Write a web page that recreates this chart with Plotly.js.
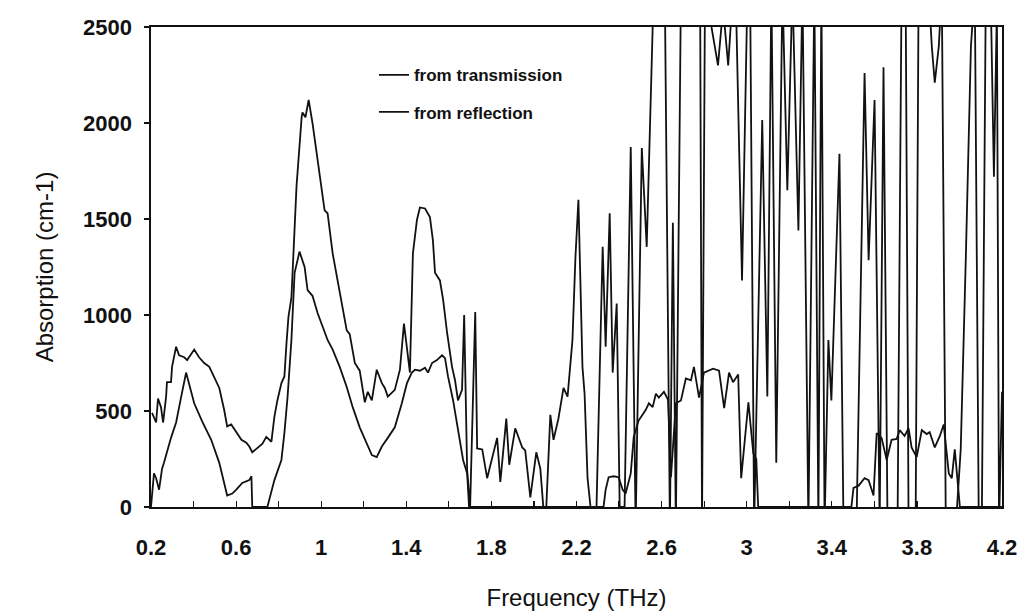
<!DOCTYPE html>
<html>
<head>
<meta charset="utf-8">
<script src="https://cdn.plot.ly/plotly-3.0.1.min.js"></script>
<style>html,body{margin:0;padding:0;background:#fff;}#chart{width:1033px;height:616px;}</style>
</head>
<body>
<div id="chart"></div>
<script>
// Frequency (THz) and absorption (cm-1)
const freqTransmission = [0.205,0.224,0.233,0.247,0.257,0.271,0.275,0.294,0.299,0.318,0.332,0.356,0.370,0.389,0.403,0.426,0.450,0.474,0.497,0.521,0.544,0.558,0.577,0.601,0.625,0.648,0.662,0.676,0.700,0.724,0.742,0.766,0.780,0.794,0.813,0.827,0.837,0.846,0.860,0.884,0.908,0.912,0.926,0.941,0.959,0.992,1.016,1.030,1.054,1.077,1.101,1.120,1.134,1.158,1.181,1.205,1.219,1.238,1.261,1.285,1.299,1.313,1.346,1.370,1.389,1.403,1.417,1.431,1.450,1.464,1.488,1.511,1.525,1.535,1.558,1.573,1.592,1.615,1.629,1.643,1.662,1.672,1.686,1.700,1.724,1.733,1.757,1.780,1.827,1.842,1.870,1.884,1.912,1.945,1.959,1.983,2.011,2.030,2.044,2.058,2.077,2.092,2.115,2.139,2.158,2.181,2.195,2.209,2.219,2.228,2.238,2.252,2.266,2.294,2.323,2.337,2.356,2.370,2.389,2.403,2.426,2.455,2.478,2.507,2.530,2.563,2.615,2.639,2.653,2.667,2.691,2.781,2.790,2.804,2.865,2.889,2.913,2.936,2.950,2.978,3.002,3.016,3.035,3.073,3.097,3.116,3.139,3.168,3.191,3.215,3.243,3.262,3.290,3.318,3.337,3.351,3.366,3.384,3.398,3.436,3.455,3.516,3.554,3.573,3.601,3.625,3.643,3.662,3.709,3.728,3.747,3.761,3.794,3.808,3.855,3.870,3.884,3.903,3.917,3.936,3.983,4.006,4.030,4.054,4.072,4.091,4.105,4.124,4.148,4.162,4.176,4.186,4.200];
const absTransmission = [490,440,565,520,440,575,650,650,730,835,790,780,765,800,820,780,750,730,680,620,505,420,430,390,350,335,315,285,310,330,365,340,470,555,645,680,855,990,1090,1670,2030,2055,2030,2120,2000,1720,1545,1530,1320,1180,1040,920,900,750,710,545,600,555,715,645,620,575,610,715,955,835,700,1320,1495,1560,1555,1510,1390,1220,1180,1080,905,730,660,555,610,1000,190,0,1015,305,300,150,360,130,460,220,410,310,295,50,285,200,0,0,480,350,460,620,575,870,1300,1600,1200,730,590,150,0,0,1355,835,1530,700,1060,0,0,1875,-100,1870,1355,2700,2700,-100,1480,-100,2700,2700,-100,2700,2300,2600,2300,2700,2600,1180,2600,2700,-100,2015,575,2700,230,2700,1650,2700,1440,2700,-100,2700,-100,2700,-100,870,555,1840,-100,-100,2260,1285,2120,-100,2290,-100,-100,2700,2700,-100,-100,2700,2700,2400,2210,2400,2700,-100,-100,300,1300,2400,2700,-100,-100,2700,2600,1720,2600,-100,600];

const freqReflection = [0.200,0.214,0.224,0.238,0.252,0.261,0.294,0.318,0.342,0.365,0.403,0.441,0.483,0.521,0.558,0.582,0.601,0.629,0.662,0.672,0.676,0.747,0.780,0.813,0.827,0.842,0.860,0.875,0.898,0.922,0.936,0.959,0.983,1.007,1.030,1.054,1.087,1.120,1.148,1.181,1.214,1.238,1.261,1.285,1.313,1.346,1.379,1.403,1.426,1.441,1.464,1.488,1.502,1.521,1.544,1.568,1.582,1.596,1.620,1.643,1.667,1.686,1.695,2.327,2.337,2.351,2.375,2.398,2.417,2.431,2.455,2.469,2.492,2.525,2.540,2.558,2.573,2.587,2.611,2.630,2.644,2.667,2.691,2.714,2.738,2.752,2.776,2.799,2.818,2.842,2.870,2.894,2.917,2.936,2.960,2.974,3.008,3.031,3.045,3.054,3.492,3.502,3.525,3.554,3.573,3.596,3.611,3.634,3.658,3.681,3.705,3.719,3.742,3.761,3.775,3.799,3.823,3.846,3.860,3.884,3.908,3.926,3.950,3.964,3.978,3.997,4.002,4.200];
const absReflection = [0,175,150,90,200,230,360,440,575,700,540,445,350,230,60,70,90,125,140,160,0,0,140,245,385,575,870,1220,1330,1250,1130,1100,1010,940,870,820,730,625,520,415,330,270,260,315,360,415,540,645,700,715,710,725,700,750,765,790,775,680,555,400,245,175,0,0,90,155,160,155,90,70,175,365,450,505,540,520,590,570,600,560,155,540,555,670,660,730,570,700,710,720,710,515,700,650,690,150,545,280,250,0,0,100,110,150,140,60,385,360,245,350,355,400,370,410,310,260,400,380,390,310,370,430,175,150,300,60,0,0];

const seriesNames = ['from transmission', 'from reflection'];
const xTickVals = [0.2,0.6,1,1.4,1.8,2.2,2.6,3,3.4,3.8,4.2];
const xTickText = ['0.2','0.6','1','1.4','1.8','2.2','2.6','3','3.4','3.8','4.2'];
const yTickVals = [0,500,1000,1500,2000,2500];

const FONT = 'Liberation Sans, Arial, sans-serif';

const traces = [
  {x: freqTransmission, y: absTransmission, name: seriesNames[0], mode: 'lines', legendgroup: 'a',
   line: {color: '#111', width: 1.8}},
  {x: freqReflection, y: absReflection, name: seriesNames[1], mode: 'lines', legendgroup: 'b',
   line: {color: '#111', width: 1.8}}
];

const layout = {
  width: 1033, height: 616,
  margin: {l: 151, r: 31, t: 27, b: 109},
  paper_bgcolor: '#fff', plot_bgcolor: '#fff',
  showlegend: true,
  legend: {x: 0.262, y: 0.937, xanchor: 'left', yanchor: 'top', bgcolor: 'rgba(0,0,0,0)',
           borderwidth: 0, itemwidth: 30, tracegroupgap: 12,
           font: {family: FONT, size: 17, color: '#111', weight: 'bold'}},
  xaxis: {
    range: [0.2, 4.2], tickmode: 'array', tickvals: xTickVals, ticktext: xTickText,
    ticks: 'inside', ticklen: 6, tickwidth: 1.2, tickcolor: '#111',
    minor: {dtick: 0.2, tick0: 0.2, ticks: 'inside', ticklen: 6, tickwidth: 1.2, tickcolor: '#111', showgrid: false},
    showline: true, linecolor: '#111', linewidth: 1.6, mirror: true,
    showgrid: false, zeroline: false, ticklabelstandoff: 20,
    tickfont: {family: FONT, size: 22, color: '#111', weight: 'bold'},
    title: {text: 'Frequency (THz)', font: {family: FONT, size: 24, color: '#111'}, standoff: 30}
  },
  yaxis: {
    range: [0, 2500], tickmode: 'array', tickvals: yTickVals,
    ticks: 'outside', ticklen: 5, tickwidth: 1.2, tickcolor: '#111',
    showline: true, linecolor: '#111', linewidth: 1.6, mirror: true,
    showgrid: false, zeroline: false, ticklabelstandoff: 8,
    tickfont: {family: FONT, size: 22, color: '#111', weight: 'bold'},
    title: {text: 'Absorption (cm-1)', font: {family: FONT, size: 24, color: '#111'}, standoff: 22}
  }
};

Plotly.newPlot('chart', traces, layout, {staticPlot: true, displayModeBar: false});
</script>
</body>
</html>
